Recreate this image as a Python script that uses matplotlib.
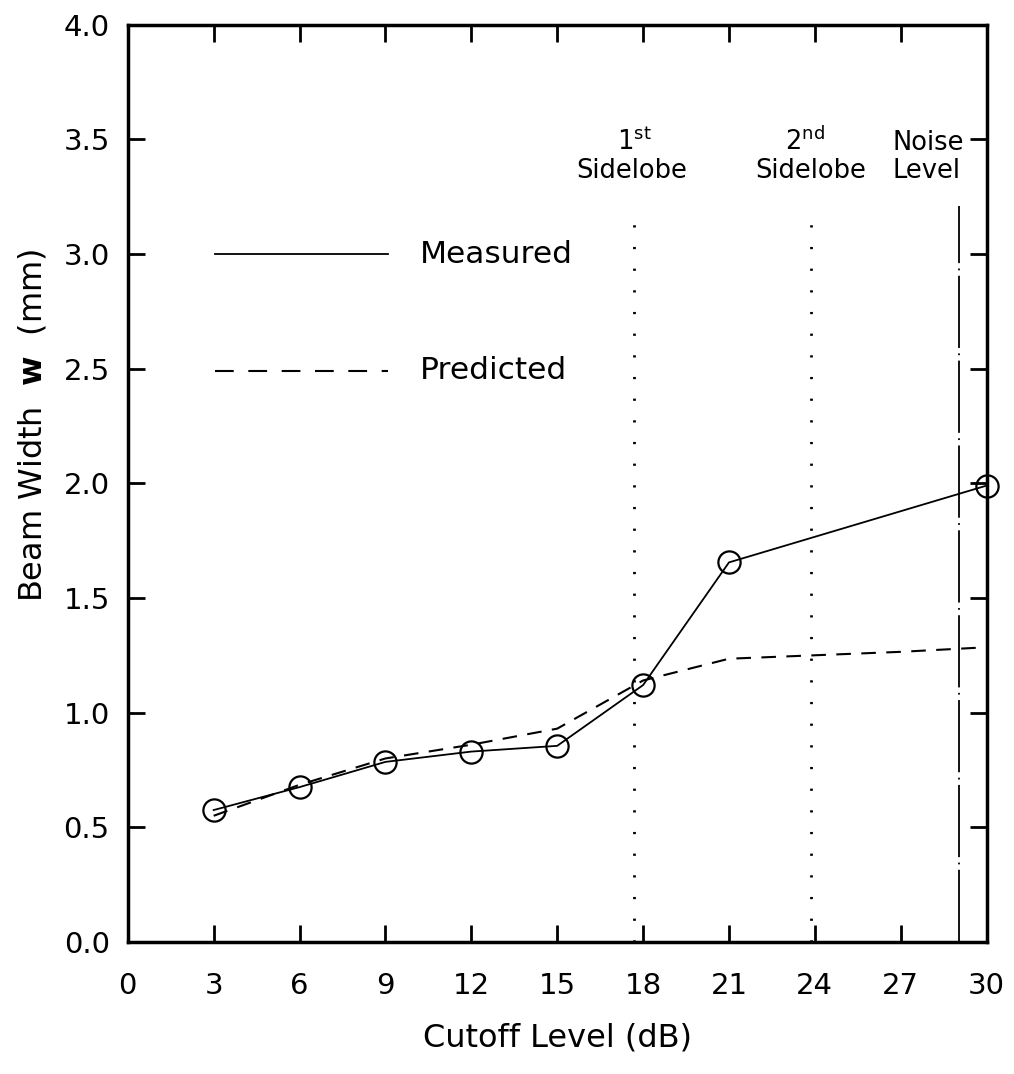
import matplotlib
matplotlib.use("Agg")
import matplotlib.pyplot as plt

cutoff = [3, 6, 9, 12, 15, 18, 21, 30]
measured = [0.575, 0.675, 0.785, 0.83, 0.855, 1.12, 1.655, 1.99]
pred_x = [3, 6, 9, 12, 15, 18, 21, 24, 27, 30]
predicted = [0.55, 0.685, 0.80, 0.86, 0.93, 1.14, 1.235, 1.25, 1.265, 1.285]
sidelobe1 = 17.7
sidelobe2 = 23.85
noise = 29.05
xticks = [0, 3, 6, 9, 12, 15, 18, 21, 24, 27, 30]
yticks = [0.0, 0.5, 1.0, 1.5, 2.0, 2.5, 3.0, 3.5, 4.0]

plt.rcParams['mathtext.fontset'] = 'dejavusans'
fig = plt.figure(figsize=(10.14, 10.74), dpi=100)
ax = fig.add_axes([0.126, 0.123, 0.847, 0.854])

ax.plot(cutoff, measured, '-', color='black', lw=1.3, marker='o', ms=16,
        mfc='none', mec='black', mew=1.6, clip_on=False, zorder=3)
ax.plot(pred_x, predicted, '--', color='black', lw=1.5, dashes=(7, 5))

vtop = 3.21
ax.plot([sidelobe1, sidelobe1], [0, vtop], color='black', lw=2.0, ls=(0, (0.8, 7)))
ax.plot([sidelobe2, sidelobe2], [0, vtop], color='black', lw=2.0, ls=(0, (0.8, 7)))
ax.plot([noise, noise], [0, vtop], color='black', lw=1.3, dashes=(40, 3, 1, 3))

fs = 18.5
ax.text(sidelobe1, 3.455, r"1$^{\mathrm{st}}$", ha='center', va='baseline', fontsize=fs)
ax.text(sidelobe1 - 0.1, 3.33, "Sidelobe", ha='center', va='baseline', fontsize=fs)
ax.text(sidelobe2 - 0.2, 3.455, r"2$^{\mathrm{nd}}$", ha='center', va='baseline', fontsize=fs)
ax.text(sidelobe2, 3.33, "Sidelobe", ha='center', va='baseline', fontsize=fs)
ax.text(27.95, 3.455, "Noise", ha='center', va='baseline', fontsize=fs)
ax.text(27.9, 3.33, "Level", ha='center', va='baseline', fontsize=fs)

# legend drawn as lines + text
lfs = 22.5
ax.plot([3.05, 9.1], [3.0, 3.0], '-', color='black', lw=1.3)
ax.text(10.2, 3.0, "Measured", ha='left', va='center', fontsize=lfs)
ax.plot([3.05, 9.1], [2.49, 2.49], '--', color='black', lw=1.5, dashes=(9, 7))
ax.text(10.2, 2.49, "Predicted", ha='left', va='center', fontsize=lfs)

ax.set_xlim(0, 30)
ax.set_ylim(0, 4.0)
ax.set_xticks(xticks)
ax.set_yticks(yticks)
ax.set_yticklabels([f"{v:.1f}" for v in yticks])
ax.tick_params(direction='in', length=12, width=2, top=True, right=True,
               labelsize=21)
ax.tick_params(axis='x', pad=22)
ax.tick_params(axis='y', pad=13)
for s in ax.spines.values():
    s.set_linewidth(2.5)
ax.set_xlabel("Cutoff Level (dB)", fontsize=23, labelpad=16)
ax.set_ylabel(r"Beam Width  $\mathbf{w}$  (mm)", fontsize=23)
ax.yaxis.set_label_coords(-0.092, 0.5625)

fig.savefig("out.png", dpi=100)
